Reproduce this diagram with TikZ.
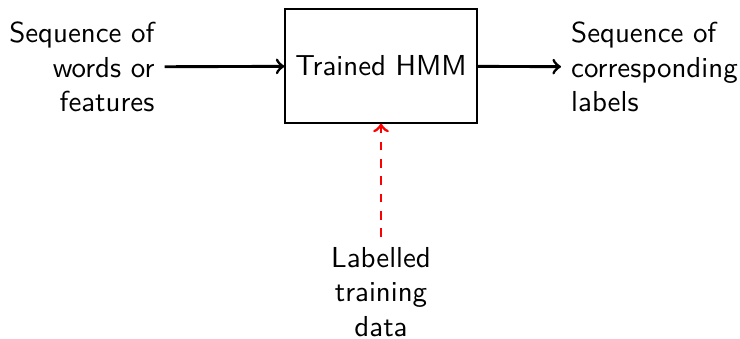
\documentclass[tikz,border=0pt]{standalone}
\usetikzlibrary{arrows}
\begin{document}
\begin{tikzpicture}[font=\sffamily,
  block/.style={draw,minimum width=2.335cm,minimum height=1.386cm},
  flow/.style={->,line width=1pt},
  train/.style={->,line width=1pt,dashed,red}]
\useasboundingbox (0,0) rectangle (9,-4.123);
\node[block] (hmm) at (4.634,-0.803) {Trained HMM};
\node[anchor=east,align=right] (input) at (2.002,-0.815) {Sequence of\\words or\\features};
\node[anchor=west,align=left] (output) at (6.823,-0.815) {Sequence of\\corresponding\\labels};
\node[anchor=north,align=center] (data) at (4.634,-2.882) {Labelled\\training\\data};
\draw[flow] (input)--(hmm);
\draw[flow] (hmm)--(output);
\draw[train] (data)--(hmm);
\end{tikzpicture}
\end{document}
